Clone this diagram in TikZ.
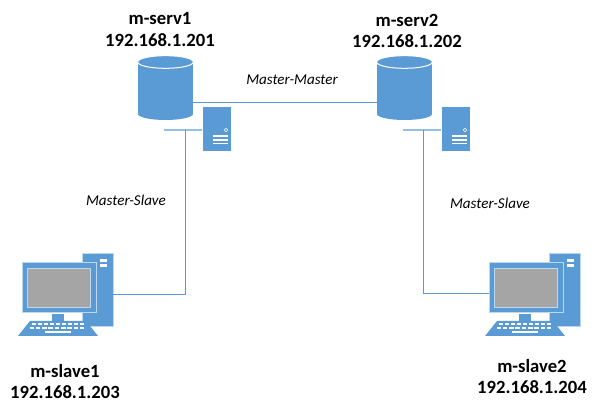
\documentclass[tikz,border=0pt]{standalone}
\usepackage{fontspec}
\setmainfont{Carlito}
\usetikzlibrary{shapes.geometric, calc}
\definecolor{iconblue}{HTML}{5B9BD5}
\definecolor{iconlight}{HTML}{BDD7EE}
\definecolor{screengray}{HTML}{A5A5A5}
\tikzset{
  hostlabel/.style={font=\fontsize{14}{15.8}\selectfont\bfseries, align=center, text=black},
  linklabel/.style={font=\fontsize{11.3}{13}\selectfont\itshape, text=black},
  link/.style={iconblue, line width=.75pt},
  dbbody/.style={rectangle, fill=iconblue, inner sep=0pt, minimum width=41.25pt, minimum height=39pt},
  dbfoot/.style={ellipse, fill=iconblue, inner sep=0pt, minimum width=41.25pt, minimum height=9pt},
  dbtop/.style={ellipse, fill=iconblue, draw=white, line width=.75pt, inner sep=0pt, minimum width=41.75pt, minimum height=9.5pt},
  towerbox/.style={rectangle, fill=iconblue, draw=iconlight, line width=.5pt, inner sep=0pt},
  screenbox/.style={rectangle, fill=screengray, draw=iconlight, line width=.75pt, inner sep=0pt, minimum width=47pt, minimum height=29pt},
}
% database, stub line and server box
\newcommand{\mserver}[2]{
\begin{scope}[shift={(#2,0)}]
\node[dbfoot] (#1foot) at (165.5,114) {};
\node[dbbody] (#1db) at (165.5,88) {};
\node[dbtop] (#1top) at (165.5,62) {};
\node[rectangle, fill=iconlight!60!iconblue, inner sep=0pt, minimum width=28.5pt, minimum height=1pt] (#1bar) at (183,130) {};
\node[rectangle, fill=iconblue, inner sep=0pt, minimum width=21pt, minimum height=33pt] (#1box) at (217,129) {};
\node[circle, draw=white, line width=.5pt, inner sep=0pt, minimum size=2.6pt] (#1led) at (226,130) {};
\foreach \y in {136,140,143.5}
  \fill[white] (213,\y-.8) rectangle (228,\y+.8);
\end{scope}
}
% tower, monitor and keyboard
\newcommand{\slavepc}[2]{
\begin{scope}[shift={(#2,0)}]
\node[towerbox, minimum width=23.25pt, minimum height=54.75pt] (#1tower) at (97.5,289.5) {};
\fill[white] (100,259) rectangle (107,262);
\fill[white] (100,264) rectangle (107,267);
\node[towerbox, draw=iconlight, line width=.75pt, minimum width=55.5pt, minimum height=37.5pt] (#1monitor) at (59,288) {};
\node[screenbox] (#1screen) at (59,288) {};
\fill[iconblue] (52,314) rectangle (64,321);
\fill[iconblue] (30,321) -- (86,321) -- (98,336) -- (18,336) -- cycle;
\foreach \k in {0,...,8} {
  \fill[white] (31.5+\k*6,323.5) rectangle (36+\k*6,325.5);
  \fill[white] (29.5+\k*6.3,327) rectangle (34+\k*6.3,329);
}
\fill[white] (45,331) rectangle (71,333);
\end{scope}
}
\begin{document}
\begin{tikzpicture}[x=.75pt, y=-.75pt]
\useasboundingbox (0,0) rectangle (597,413);
\fill[white] (0,0) rectangle (597,413);

% master servers
\mserver{servA}{0}
\mserver{servB}{239}
\node[hostlabel] (servAname) at (160,29.5) {m-serv1\\192.168.1.201};
\node[hostlabel] (servBname) at (407,30.5) {m-serv2\\192.168.1.202};

% slaves
\slavepc{slaveA}{0}
\slavepc{slaveB}{467}
\node[hostlabel] (slaveAname) at (65,381.5) {m-slave1\\192.168.1.203};
\node[hostlabel] (slaveBname) at (532,376.5) {m-slave2\\192.168.1.204};

% links
\draw[link] ([yshift=-11.25pt]servAdb.east) -- ([yshift=-11.25pt]servBdb.west);
\draw[link] ([xshift=1.5pt]servAbar.center) |- ([yshift=-3.4pt]slaveAtower.east);
\draw[link] ([xshift=.75pt]servBbar.center) |- ([yshift=-4.5pt]slaveBmonitor.west);

\node[linklabel] (mmlabel) at (292,80) {Master-Master};
\node[linklabel] (mslabelA) at (126,200) {Master-Slave};
\node[linklabel] (mslabelB) at (490,203) {Master-Slave};
\end{tikzpicture}
\end{document}
